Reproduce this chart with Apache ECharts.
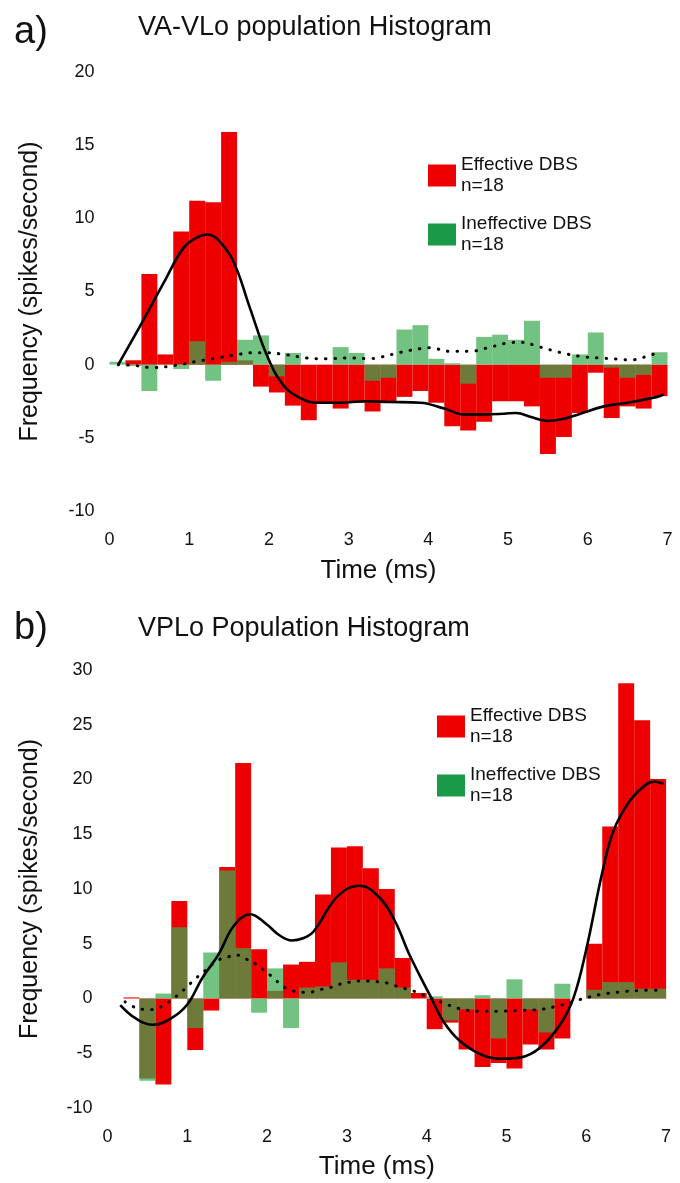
<!DOCTYPE html>
<html><head><meta charset="utf-8">
<script src="https://cdn.jsdelivr.net/npm/echarts@6/dist/echarts.min.js"></script>
<style>html,body{margin:0;padding:0;background:#fff}#c{width:680px;height:1183px}</style>
</head><body><div id="c"></div>
<script>
// 0.2 ms bins (bin start, ms)
const bins = ['0.0','0.2','0.4','0.6','0.8','1.0','1.2','1.4','1.6','1.8','2.0','2.2','2.4','2.6','2.8','3.0','3.2','3.4','3.6','3.8','4.0','4.2','4.4','4.6','4.8','5.0','5.2','5.4','5.6','5.8','6.0','6.2','6.4','6.6','6.8'];

// Panel a: VA-VLo
const effA = [0,0.3,6.2,0.7,9.1,11.2,11.1,15.9,0.3,-1.5,-1.9,-2.8,-3.8,-2.6,-3.0,-2.6,-3.2,-2.5,-2.2,-1.8,-2.6,-4.2,-4.5,-3.9,-2.5,-2.5,-2.85,-6.1,-4.95,-3.3,-0.55,-3.65,-2.85,-3.0,-2.15];
const ineA = [0.2,-0.1,-1.8,0,-0.3,1.6,-1.1,0.2,1.7,2.0,-0.8,0.8,0,0,1.2,0.8,-1.1,-0.9,2.4,2.7,0.4,0.1,-1.3,1.9,2.05,1.7,3.0,-0.9,-0.9,0.7,2.2,-0.2,-0.9,-0.7,0.85];
const fitEffA = [[0.11,0],[0.42,3.0],[0.7,5.8],[0.93,8.0],[1.1,8.7],[1.22,8.9],[1.35,8.6],[1.55,7.1],[1.76,3.9],[1.97,0.7],[2.18,-1.4],[2.4,-2.3],[2.6,-2.6],[2.9,-2.6],[3.2,-2.5],[3.5,-2.55],[3.9,-2.6],[4.2,-3.0],[4.44,-3.4],[4.7,-3.4],[4.95,-3.35],[5.1,-3.3],[5.3,-3.6],[5.5,-3.85],[5.7,-3.7],[5.88,-3.4],[6.2,-2.85],[6.5,-2.6],[6.87,-2.2],[6.95,-2.05]];
const fitIneA = [[0.11,0],[0.3,-0.05],[0.55,-0.2],[0.82,-0.05],[1.07,0.2],[1.32,0.43],[1.57,0.66],[1.83,0.82],[1.95,0.82],[2.22,0.68],[2.47,0.46],[2.72,0.4],[2.99,0.46],[3.25,0.41],[3.39,0.5],[3.65,0.84],[3.9,1.1],[4.02,1.15],[4.27,0.91],[4.52,0.91],[4.77,1.19],[5.03,1.51],[5.15,1.53],[5.4,1.21],[5.65,0.84],[5.9,0.57],[6.15,0.46],[6.41,0.37],[6.53,0.32],[6.78,0.64],[6.91,0.91]];

// Panel b: VPLo
const effB = [0,0.1,-7.3,-7.85,8.9,-4.7,-1.1,12.0,21.5,4.5,0.7,3.1,3.35,9.5,13.8,13.9,11.9,10.0,3.7,0.5,-2.8,-2.2,-4.65,-6.25,-5.9,-6.4,-4.2,-4.65,-3.65,0,5.0,15.7,28.8,25.4,20.05];
const ineB = [0,0,-7.5,0.45,6.5,-2.7,4.2,11.7,4.6,-1.3,2.75,-2.7,1.0,1.1,3.3,1.7,1.7,2.75,1.0,0,0.2,-2.0,-1.0,0.3,-3.65,1.75,-1.0,-3.1,1.35,0,0.8,1.5,1.5,0.9,0.9];
const fitEffB = [[0.16,-0.6],[0.35,-1.8],[0.57,-2.4],[0.8,-1.8],[1.0,-0.55],[1.19,1.9],[1.39,4.0],[1.58,6.6],[1.79,7.7],[1.99,6.8],[2.15,5.8],[2.31,5.3],[2.45,5.5],[2.58,6.1],[2.83,8.9],[3.0,10.0],[3.16,10.3],[3.41,9.2],[3.6,7.1],[3.79,3.9],[4.04,0.3],[4.21,-2.1],[4.42,-3.9],[4.71,-5.2],[4.96,-5.5],[5.17,-5.4],[5.42,-4.5],[5.67,-2.4],[5.84,0.06],[6.0,4.5],[6.2,11.5],[6.34,15.3],[6.55,18.1],[6.76,19.6],[6.85,19.8],[6.97,19.6]];
const fitIneB = [[0.22,-0.3],[0.34,-0.8],[0.47,-1.0],[0.6,-1.0],[0.7,-0.6],[0.8,-0.15],[0.91,0.5],[1.0,1.1],[1.1,1.8],[1.2,2.4],[1.31,3.1],[1.4,3.55],[1.51,3.8],[1.64,3.95],[1.74,3.6],[1.87,3.1],[1.97,2.5],[2.08,1.9],[2.18,1.2],[2.29,0.8],[2.41,0.58],[2.54,0.58],[2.66,0.8],[2.79,1.0],[2.91,1.3],[3.04,1.5],[3.16,1.6],[3.29,1.6],[3.42,1.5],[3.54,1.35],[3.67,1.0],[3.79,0.8],[3.92,0.43],[4.04,0.06],[4.17,-0.3],[4.4,-0.9],[4.65,-1.16],[4.9,-1.16],[5.15,-1.1],[5.42,-1.0],[5.69,-0.6],[5.92,-0.1],[6.17,0.36],[6.42,0.6],[6.67,0.73],[6.94,0.76]];

const xTicks = [0,1,2,3,4,5,6,7];
const titles = ['VA-VLo population Histogram','VPLo Population Histogram'];
const panelTags = ['a)','b)'];
const legendNames = ['Effective DBS','Ineffective DBS'];
const nLabel = 'n=18';

const FONT = 'Liberation Sans, Arial, Helvetica, sans-serif';
const RED = '#ee0000';
const GREEN_BAR = 'rgba(60,170,80,0.72)';
const GREEN_LEG = '#1a9a48';
const TXT = '#111';

const grids = [
  {left:109.5, top:72, width:558, height:439},
  {left:107.5, top:670, width:558.6, height:438}
];
const yRanges = [[-10,20],[-10,30]];

const xAxes = [], yAxes = [], series = [];
[0,1].forEach(g=>{
  xAxes.push({type:'category', gridIndex:g, position:'bottom', data:bins, show:false, boundaryGap:true});
  xAxes.push({type:'value', gridIndex:g, position:'bottom', min:0, max:7, interval:1, axisLine:{show:false}, axisTick:{show:false}, splitLine:{show:false},
    axisLabel:{fontSize:18, color:TXT, fontFamily:FONT, margin:20, formatter:v=>xTicks.includes(v)?String(v):''},
    name:'Time (ms)', nameLocation:'middle', nameGap:g===0?47:46,
    nameTextStyle:{fontSize:26, color:TXT, fontFamily:FONT, padding:[0,20,0,0]}});
  yAxes.push({type:'value', gridIndex:g, min:yRanges[g][0], max:yRanges[g][1], interval:5,
    axisLine:{show:false}, axisTick:{show:false}, splitLine:{show:false},
    axisLabel:{fontSize:18, color:TXT, fontFamily:FONT, margin:15},
    name:'Frequency (spikes/second)', nameLocation:'middle', nameRotate:90, nameGap:g===0?67:65,
    nameTextStyle:{fontSize:25, color:TXT, fontFamily:FONT}});
});

const data = [[effA,ineA,fitEffA,fitIneA],[effB,ineB,fitEffB,fitIneB]];
data.forEach((d,g)=>{
  series.push({name:legendNames[0], type:'bar', xAxisIndex:2*g, yAxisIndex:g, data:d[0], barWidth:'100%', barGap:'-100%', itemStyle:{color:RED}, z:2, animation:false});
  series.push({name:legendNames[1], type:'bar', xAxisIndex:2*g, yAxisIndex:g, data:d[1], barWidth:'100%', barGap:'-100%', itemStyle:{color:GREEN_BAR}, z:3, animation:false});
  series.push({type:'line', xAxisIndex:2*g+1, yAxisIndex:g, data:d[2], smooth:0.4, symbol:'none', lineStyle:{color:'#000', width:2.6}, z:5, animation:false});
  series.push({type:'line', xAxisIndex:2*g+1, yAxisIndex:g, data:d[3], smooth:0.4, symbol:'none', lineStyle:{color:'#000', width:3, type:[0.5,9], cap:'round'}, z:5, animation:false});
});

const legendCfg = (left, top, gap) => ({
  left:left, top:top, orient:'vertical', padding:0, itemGap:gap, itemWidth:28, itemHeight:22,
  icon:'rect', selectedMode:false,
  data:[{name:legendNames[0], itemStyle:{color:RED}},{name:legendNames[1], itemStyle:{color:GREEN_LEG}}],
  formatter: n => n + '\n' + nLabel,
  textStyle:{fontSize:19, lineHeight:21, color:TXT, fontFamily:FONT, padding:[17,0,0,0]}
});

const option = {
  backgroundColor:'#fff',
  animation:false,
  grid:grids,
  xAxis:xAxes,
  yAxis:yAxes,
  legend:[legendCfg(428,146,0), legendCfg(437,697,0)],
  series:series,
  graphic:[
    {type:'text', left:14, top:14, style:{text:panelTags[0], font:'38px '+FONT, fill:TXT}},
    {type:'text', left:138, top:14, style:{text:titles[0], font:'27px '+FONT, fill:TXT}},
    {type:'text', left:14, top:610, style:{text:panelTags[1], font:'38px '+FONT, fill:TXT}},
    {type:'text', left:138, top:615, style:{text:titles[1], font:'27px '+FONT, fill:TXT}}
  ]
};
const chart = echarts.init(document.getElementById('c'), null, {renderer:'canvas'});
chart.setOption(option);
</script></body></html>
